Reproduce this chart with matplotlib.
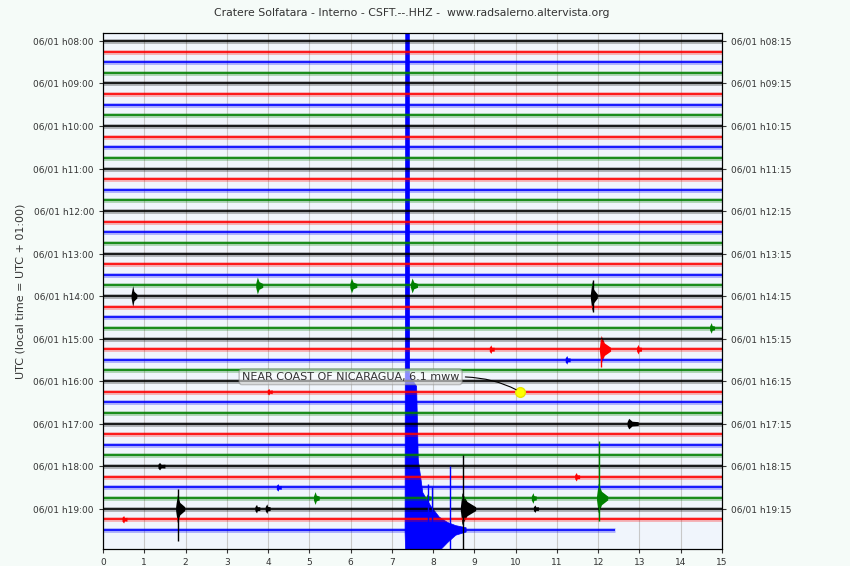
import numpy as np
import matplotlib.pyplot as plt

# helicorder rows: 15 minutes each, 06/01 08:00 -> 19:30 UTC
n_rows = 47
last_row_end = 12.4          # minutes recorded on the last (incomplete) row
row_colors = ['k', 'r', 'b', 'g']
hours = list(range(8, 20))
left_labels = ['06/01 h%02d:00' % h for h in hours]
right_labels = ['06/01 h%02d:15' % h for h in hours]
noise = 0.18                 # background noise half-width (row units)

# local events: row, onset (min), half amplitude (rows), duration (min)
ev_row = [24, 24, 23, 23, 23, 27, 29, 29, 29, 30, 33, 36, 40, 41, 42, 43, 43, 43, 43, 44, 44, 44, 44, 44, 45]
ev_t0 = [0.70, 11.83, 3.72, 6.00, 7.47, 14.72, 12.05, 12.95, 9.38, 11.22, 4.00, 12.72, 1.35, 11.45, 4.22,
         5.12, 7.85, 10.40, 11.98, 1.78, 3.70, 3.95, 8.68, 10.45, 0.48]
ev_amp = [1.0, 1.4, 0.8, 0.7, 0.7, 0.5, 1.3, 0.45, 0.4, 0.4, 0.3, 0.5, 0.35, 0.4, 0.35,
          0.6, 0.45, 0.5, 1.4, 1.3, 0.4, 0.45, 1.5, 0.35, 0.35]
ev_dur = [0.12, 0.15, 0.15, 0.15, 0.15, 0.10, 0.25, 0.10, 0.10, 0.10, 0.10, 0.25, 0.15, 0.10, 0.10,
          0.12, 0.10, 0.10, 0.25, 0.20, 0.10, 0.10, 0.35, 0.10, 0.10]

# thin spikes: row, minute, extent up, extent down (rows)
sp_row = [46, 46, 46, 44, 44, 43, 29, 24]
sp_t = [8.42, 7.87, 7.97, 8.72, 1.82, 12.02, 12.08, 11.87]
sp_up = [6.0, 4.3, 4.0, 5.0, 1.8, 5.4, 1.0, 1.5]
sp_dn = [2.0, 0.0, 0.0, 3.8, 3.0, 2.2, 1.7, 1.5]

# Nicaragua M6.1 surface waves on the last row (envelope)
coda_min = [7.32, 7.34, 7.42, 7.43, 7.60, 7.64, 7.75, 7.95, 8.15, 8.35, 8.55, 8.80]
coda_up = [0.2, 60, 60, 14.5, 13.5, 6.6, 3.5, 2.2, 1.2, 0.7, 0.4, 0.2]
coda_dn = [0.2, 3, 3, 3, 3, 3, 3, 2.5, 2.0, 1.2, 0.5, 0.2]

quake_label = 'NEAR COAST OF NICARAGUA, 6.1 mww'
quake_row, quake_min = 33, 10.1

fig = plt.figure(figsize=(8.5, 5.66), dpi=100, facecolor='#f5fbf8')
ax = fig.add_axes([0.1212, 0.030, 0.7282, 0.9117], facecolor='#f0f5fc')

for i in range(n_rows):
    c = row_colors[i % 4]
    end = last_row_end if i == n_rows - 1 else 15
    ax.plot([0, end], [i, i], color=c, lw=3.4, alpha=0.3, solid_capstyle='butt')
    ax.plot([0, end], [i, i], color=c, lw=1.2, solid_capstyle='butt')

for r, t0, a, d in zip(ev_row, ev_t0, ev_amp, ev_dur):
    c = row_colors[r % 4]
    x = np.array([t0 - 0.02, t0 + 0.02, t0 + 0.4 * d, t0 + d])
    h = np.array([noise, a, 0.45 * a, noise])
    ax.fill_between(x, r - h, r + h, color=c, lw=0)

for r, t, u, d in zip(sp_row, sp_t, sp_up, sp_dn):
    ax.vlines(t, r - u, r + d, color=row_colors[r % 4], lw=1.0)

cu = np.array(coda_up)
cd = np.array(coda_dn)
ax.fill_between(coda_min, 46 - cu, 46 + cd, color='b', lw=0.5)

ax.plot(quake_min, quake_row, 'o', color='#ffff00', ms=7, mec='#e6e600', zorder=5)
ax.annotate(quake_label, xy=(quake_min, quake_row), xytext=(6.0, 31.6),
            ha='center', va='center', fontsize=8, color='#333333', zorder=6,
            bbox=dict(boxstyle='round,pad=0.25', fc='white', ec='#888888', alpha=0.55),
            arrowprops=dict(arrowstyle='-', color='k', lw=0.8, relpos=(1, 0.5),
                            connectionstyle='angle3,angleA=0,angleB=-30', shrinkB=3))

ax.set_xlim(0, 15)
ax.set_ylim(47.8, -0.75)
ax.set_xticks(range(16))
ax.tick_params(axis='x', labelsize=6.5, length=3, colors='#333333')
ax.grid(axis='x', color='#c8c8c8', lw=0.8)
ax.set_axisbelow(True)

yt = [4 * k for k in range(len(hours))]
ax.set_yticks(yt)
ax.set_yticklabels(left_labels)
ax.tick_params(axis='y', labelsize=6.5, length=3, colors='#333333')
ax.set_ylabel('UTC (local time = UTC + 01:00)', fontsize=8, color='#333333', labelpad=6)

ax2 = ax.twinx()
ax2.set_ylim(ax.get_ylim())
ax2.set_yticks(yt)
ax2.set_yticklabels(right_labels)
ax2.tick_params(axis='y', labelsize=6.5, length=3, colors='#333333')

fig.suptitle('Cratere Solfatara - Interno - CSFT.--.HHZ -  www.radsalerno.altervista.org',
             x=0.485, y=0.985, fontsize=7.8, color='#333333')
fig.savefig('out.png', dpi=100, facecolor=fig.get_facecolor())
